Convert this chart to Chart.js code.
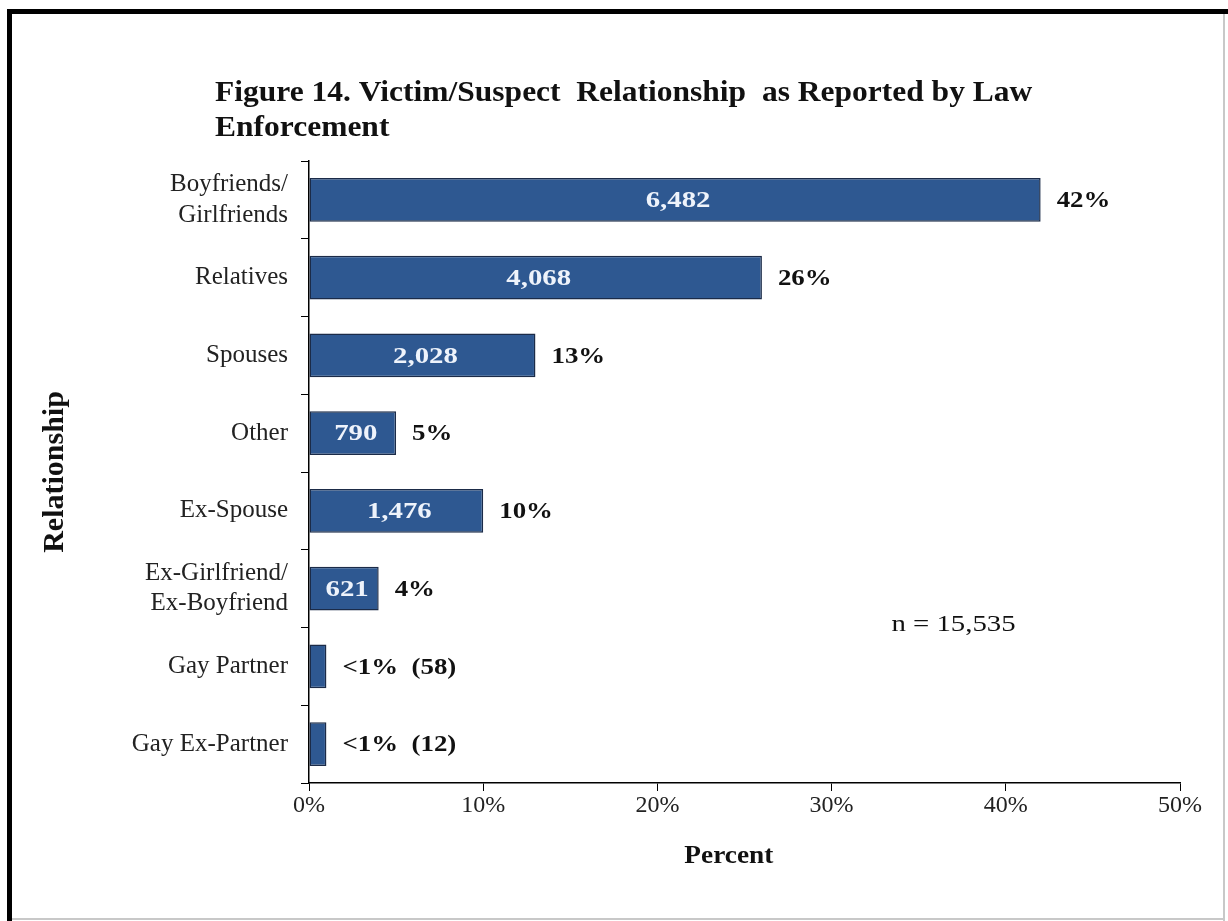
<!DOCTYPE html>
<html>
<head>
<meta charset="utf-8">
<script src="https://cdn.jsdelivr.net/npm/chart.js@4/dist/chart.umd.min.js"></script>
<style>
  html, body { margin: 0; padding: 0; background: #fff; }
  #wrap { width: 1228px; height: 921px; position: relative; }
</style>
</head>
<body>
<div id="wrap"><canvas id="c" width="1228" height="921"></canvas></div>
<script>
const titleLines = ["Figure 14. Victim/Suspect  Relationship  as Reported by Law", "Enforcement"];
const categories = [["Boyfriends/", "Girlfriends"], "Relatives", "Spouses", "Other", "Ex-Spouse", ["Ex-Girlfriend/", "Ex-Boyfriend"], "Gay Partner", "Gay Ex-Partner"];
const percents = [42, 26, 13, 5, 10, 4, 1, 1];
const countLabels = ["6,482", "4,068", "2,028", "790", "1,476", "621", "", ""];
const pctLabels = ["42%", "26%", "13%", "5%", "10%", "4%", "<1%  (58)", "<1%  (12)"];
const xTicks = [0, 10, 20, 30, 40, 50];
const totalLabel = "n = 15,535";
const xTitle = "Percent";
const yTitle = "Relationship";

const SERIF = "'Liberation Serif', 'Times New Roman', serif";

function drawText(ctx, text, x, y, align, sx) {
  ctx.save();
  ctx.translate(x, y);
  ctx.scale(sx, 1);
  ctx.textAlign = align;
  ctx.textBaseline = 'middle';
  ctx.fillText(text, 0, 0);
  ctx.restore();
}

const decor = {
  id: 'decor',
  beforeDraw(chart) {
    const ctx = chart.ctx;
    ctx.save();
    ctx.fillStyle = '#fff';
    ctx.fillRect(0, 0, chart.width, chart.height);
    // frame
    ctx.fillStyle = '#000';
    ctx.fillRect(7, 9, 1221, 5);
    ctx.fillRect(7, 9, 5, 912);
    ctx.fillStyle = '#c8c8c8';
    ctx.fillRect(1223, 14, 2, 907);
    ctx.fillRect(12, 918, 1213, 2);
    // title
    ctx.fillStyle = '#111';
    ctx.font = "bold 30px " + SERIF;
    drawText(ctx, titleLines[0], 215, 93, 'left', 1.05);
    drawText(ctx, titleLines[1], 215, 128, 'left', 1.05);
    ctx.restore();
  },
  afterDatasetsDraw(chart) {
    const ctx = chart.ctx;
    const meta = chart.getDatasetMeta(0);
    ctx.save();
    meta.data.forEach((bar, i) => {
      const left = bar.base, right = bar.x, y = bar.y + 1;
      if (countLabels[i]) {
        ctx.font = "bold 24px " + SERIF;
        ctx.fillStyle = '#eef3fb';
        drawText(ctx, countLabels[i], (left + right) / 2 + 3, y, 'center', 1.2);
      }
      ctx.font = "bold 24px " + SERIF;
      ctx.fillStyle = '#111';
      drawText(ctx, pctLabels[i], right + 16, y, 'left', 1.12);
    });
    const xs = chart.scales.x, ys = chart.scales.y;
    // n label
    ctx.font = "24px " + SERIF;
    ctx.fillStyle = '#111';
    drawText(ctx, totalLabel, xs.getPixelForValue(37.0), ys.getPixelForValue(5.47), 'center', 1.2);
    // x axis title
    ctx.font = "bold 26px " + SERIF;
    drawText(ctx, xTitle, xs.getPixelForValue(24.1), ys.bottom + 73, 'center', 1.05);
    ctx.restore();
  }
};

new Chart(document.getElementById('c'), {
  type: 'bar',
  data: {
    labels: categories,
    datasets: [{
      data: percents,
      backgroundColor: '#2e5891',
      borderColor: '#1b2b48',
      borderWidth: 1.5,
      borderSkipped: false,
      categoryPercentage: 1.0,
      barPercentage: 0.56
    }]
  },
  options: {
    indexAxis: 'y',
    responsive: false,
    animation: false,
    events: [],
    devicePixelRatio: 1,
    layout: { padding: { left: 0, top: 161, right: 48, bottom: 0 } },
    plugins: { legend: { display: false }, title: { display: false }, tooltip: { enabled: false } },
    scales: {
      x: {
        min: 0, max: 50,
        afterFit(s) { s.height = 138; },
        afterBuildTicks(s) { s.ticks = xTicks.map(v => ({ value: v })); },
        ticks: {
          color: '#222',
          font: { family: SERIF, size: 24 },
          padding: 0,
          callback: v => v + '%'
        },
        grid: { drawOnChartArea: false, drawTicks: true, tickLength: 8, color: '#000', tickColor: '#000' },
        border: { display: true, color: '#000', width: 1.5 },
        title: { display: false, text: xTitle }
      },
      y: {
        afterFit(s) { s.width = 309; },
        offset: true,
        ticks: {
          color: '#222',
          font: { family: SERIF, size: 25, lineHeight: 1.22 },
          padding: 13
        },
        grid: { offset: true, drawOnChartArea: false, drawTicks: true, tickLength: 8, color: '#000', tickColor: '#000' },
        border: { display: true, color: '#000', width: 1.5 },
        title: { display: true, text: yTitle, color: '#111', font: { family: SERIF, size: 30, weight: 'bold' }, padding: { top: 37, bottom: 0 } }
      }
    }
  },
  plugins: [decor]
});
</script>
</body>
</html>
